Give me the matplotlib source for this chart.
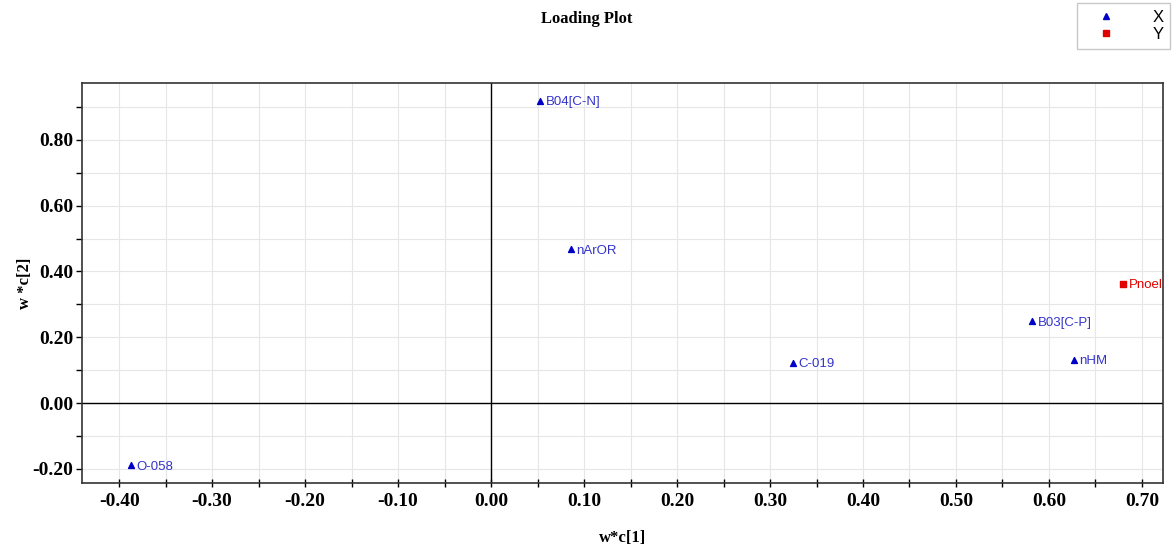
import matplotlib.pyplot as plt
from matplotlib.ticker import MultipleLocator, FormatStrFormatter
from matplotlib.lines import Line2D

# X loadings
x_names = ['B04[C-N]', 'nArOR', 'C-019', 'B03[C-P]', 'nHM', 'O-058']
x_wc1 = [0.053, 0.086, 0.325, 0.582, 0.627, -0.387]
x_wc2 = [0.919, 0.468, 0.122, 0.249, 0.131, -0.189]

# Y loadings
y_names = ['Pnoel']
y_wc1 = [0.680]
y_wc2 = [0.362]

blue = '#0000c8'
red = '#e00000'
serif = 'Liberation Serif'
sans = 'Liberation Sans'

fig = plt.figure(figsize=(11.74, 5.52), dpi=100)
ax = fig.add_axes([0.0698, 0.125, 0.9208, 0.7246])

ax.set_xlim(-0.44, 0.7226)
ax.set_ylim(-0.243, 0.973)

ax.xaxis.set_major_locator(MultipleLocator(0.1))
ax.xaxis.set_minor_locator(MultipleLocator(0.05))
ax.yaxis.set_major_locator(MultipleLocator(0.2))
ax.yaxis.set_minor_locator(MultipleLocator(0.1))
ax.xaxis.set_major_formatter(FormatStrFormatter('%.2f'))
ax.yaxis.set_major_formatter(FormatStrFormatter('%.2f'))

ax.grid(True, which='both', color='#e6e6e6', linewidth=0.8)
ax.set_axisbelow(True)
ax.axhline(0, color='black', linewidth=1)
ax.axvline(0, color='black', linewidth=1)

ax.tick_params(axis='x', which='both', direction='inout', length=6, width=1, pad=4)
ax.tick_params(axis='y', which='both', direction='out', length=4, width=1, pad=2)
for lab in ax.get_xticklabels() + ax.get_yticklabels():
    lab.set_fontfamily(serif)
    lab.set_fontweight('bold')
    lab.set_fontsize(14)
for s in ax.spines.values():
    s.set_color('#333333')
    s.set_linewidth(1.2)

ax.scatter(x_wc1, x_wc2, marker='^', s=18, color=blue, zorder=3)
ax.scatter(y_wc1, y_wc2, marker='s', s=16, color=red, zorder=3)
for n, xv, yv in zip(x_names, x_wc1, x_wc2):
    ax.annotate(n, (xv, yv), xytext=(4, -1), textcoords='offset points',
                va='center', ha='left', fontsize=9.5, color='#3333cc', family=sans)
for n, xv, yv in zip(y_names, y_wc1, y_wc2):
    ax.annotate(n, (xv, yv), xytext=(4, -1), textcoords='offset points',
                va='center', ha='left', fontsize=9.5, color=red, family=sans)

ax.set_xlabel('w*c[1]', fontfamily=serif, fontweight='bold', fontsize=12)
ax.set_ylabel('w *c[2]', fontfamily=serif, fontweight='bold', fontsize=12)
ax.xaxis.set_label_coords(0.5, -0.117)
ax.yaxis.set_label_coords(-0.045, 0.5)
fig.text(0.5, 0.965, 'Loading Plot', ha='center', va='center',
         fontfamily=serif, fontweight='bold', fontsize=12)

handles = [Line2D([], [], marker='^', linestyle='none', color=blue, markersize=5),
           Line2D([], [], marker='s', linestyle='none', color=red, markersize=5)]
leg = fig.legend(handles, ['X', 'Y'], loc='upper right', bbox_to_anchor=(0.9966, 0.9946),
                 frameon=True, fancybox=False, edgecolor='#bbbbbb',
                 prop={'family': sans, 'size': 12}, handlelength=2.6,
                 handletextpad=1.5, borderpad=0.4, labelspacing=0.15,
                 borderaxespad=0)
leg.get_frame().set_linewidth(1)

fig.savefig('out.png', dpi=100)
